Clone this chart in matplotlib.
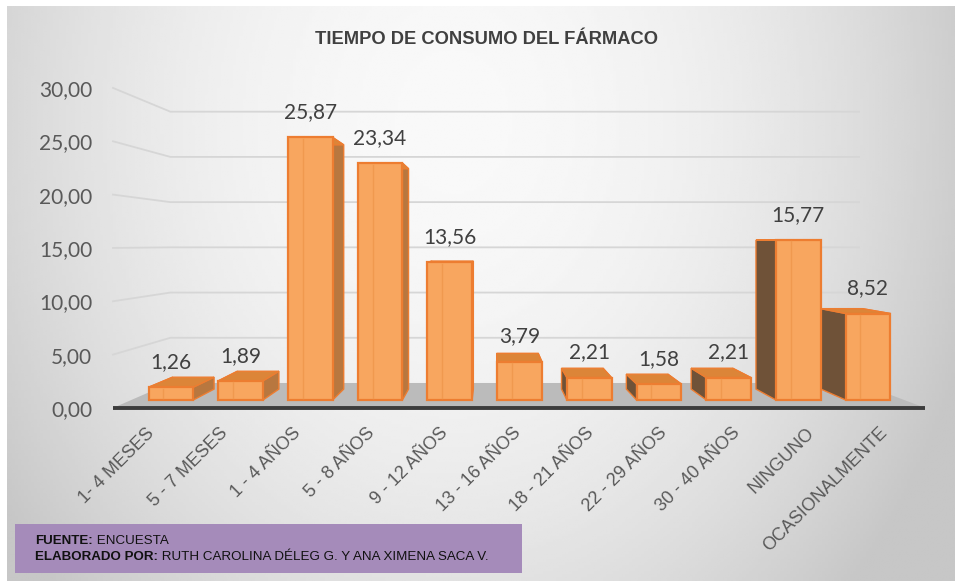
import numpy as np
import matplotlib.pyplot as plt
from matplotlib.patches import Polygon, Rectangle

categories = ["1- 4 MESES", "5 - 7 MESES", "1 - 4 AÑOS", "5 - 8 AÑOS", "9 - 12 AÑOS",
              "13 - 16 AÑOS", "18 - 21 AÑOS", "22 - 29 AÑOS", "30 - 40 AÑOS",
              "NINGUNO", "OCASIONALMENTE"]
values = [1.26, 1.89, 25.87, 23.34, 13.56, 3.79, 2.21, 1.58, 2.21, 15.77, 8.52]
y_ticks = [0, 5, 10, 15, 20, 25, 30]
title = "TIEMPO DE CONSUMO DEL FÁRMACO"
source_bold = ["FUENTE:", "ELABORADO POR:"]
source_text = [" ENCUESTA", " RUTH CAROLINA DÉLEG G. Y ANA XIMENA SACA V."]

W, H = 955, 581
fig = plt.figure(figsize=(W / 100, H / 100), dpi=100)

# fondo con degradado
bg = fig.add_axes([7 / W, 0, 1 - 7 / W, 1 - 6 / H])
bg.axis("off")
yy, xx = np.mgrid[0:1:200j, 0:1:300j]
r = ((xx - 0.47) / 0.58) ** 2 + ((yy - 0.2) / 1.2) ** 2
shade = np.clip(0.975 - 0.2 * r, 0.78, 0.975)
bg.imshow(shade, cmap="gray", vmin=0, vmax=1, aspect="auto", extent=[0, 1, 0, 1], origin="upper")
bg.set_xlim(0, 1)
bg.set_ylim(0, 1)

# ejes principales (x = categoría, y = valor en el plano frontal de las barras)
x0, px_x = 171, 69.7
y0, px_y = 400, 10.15
xmin, xmax, ymin, ymax = -1, 11, -1.5, 33
left = x0 + px_x * xmin
right = x0 + px_x * xmax
bot = y0 - px_y * ymin
top = y0 - px_y * ymax
ax = fig.add_axes([left / W, (H - bot) / H, (right - left) / W, (bot - top) / H])
ax.set_xlim(xmin, xmax)
ax.set_ylim(ymin, ymax)
ax.patch.set_visible(False)
for s in ax.spines.values():
    s.set_visible(False)

# perspectiva
xv, yv = (490 - x0) / px_x, (y0 - 244) / px_y
K_FRONT, K_BACK, K_WALL = 1.051, 0.93, 0.891


def proj(x, y, k):
    return xv + (x - xv) * k, yv + (y - yv) * k


floor_lo, floor_hi = -0.57, 10.52

# líneas de cuadrícula (pared izquierda + fondo)
for v in y_ticks[1:]:
    pts = [proj(floor_lo, v, K_FRONT), proj(floor_lo, v, K_WALL), proj(floor_hi, v, K_WALL)]
    ax.plot([p[0] for p in pts], [p[1] for p in pts], color="#d6d6d6", lw=1.3,
            clip_on=False, zorder=1)

# piso
floor = [proj(floor_lo, 0, K_FRONT), proj(floor_hi, 0, K_FRONT),
         proj(floor_hi, 0, K_WALL), proj(floor_lo, 0, K_WALL)]
ax.add_patch(Polygon(floor, closed=True, facecolor="#bbbbbb", edgecolor="none",
                     zorder=2, clip_on=False))
ax.plot([floor[0][0], floor[1][0]], [floor[0][1], floor[1][1]], color="#3c3c3c",
        lw=2.8, solid_capstyle="butt", zorder=3, clip_on=False)

# barras 3D
w = 0.64
edge = "#ED7D31"
for i, v in enumerate(values):
    l, rr = i - w / 2, i + w / 2
    fl_b, fr_b, fr_t, fl_t = (l, 0), (rr, 0), (rr, v), (l, v)
    bl_b, br_b = proj(l, 0, K_BACK), proj(rr, 0, K_BACK)
    bl_t, br_t = proj(l, v, K_BACK), proj(rr, v, K_BACK)
    # caras laterales
    ax.add_patch(Polygon([fr_b, fr_t, br_t, br_b], facecolor="#b8773f", edgecolor=edge,
                         lw=1.0, zorder=4, clip_on=False))
    ax.add_patch(Polygon([fl_b, fl_t, bl_t, bl_b], facecolor="#6f5238", edgecolor=edge,
                         lw=1.0, zorder=4, clip_on=False))
    # cara superior
    ax.add_patch(Polygon([fl_t, fr_t, br_t, bl_t], facecolor="#dc8538", edgecolor=edge,
                         lw=1.0, zorder=5, clip_on=False))
    # cara frontal
    ax.add_patch(Rectangle((l, 0), w, v, facecolor="#F8A65F", edgecolor=edge, lw=1.6,
                           zorder=6, clip_on=False))
    ax.plot([l + w * 0.33, l + w * 0.33], [0.15, v - 0.15], color="#f0994f", lw=1.0,
            zorder=7, clip_on=False)
    ax.annotate(f"{v:.2f}".replace(".", ","), (i, v), xytext=(0, 13.7),
                textcoords="offset points", ha="center", va="baseline",
                fontsize=15, family="Lato", color="#404040", zorder=8,
                annotation_clip=False)

# ticks
ax.set_yticks([proj(0, v, K_FRONT)[1] for v in y_ticks],
              labels=[f"{v:.2f}".replace(".", ",") for v in y_ticks])
ax.tick_params(axis="y", length=0, pad=6.5, labelsize=15, labelcolor="#595959")
for t in ax.get_yticklabels():
    t.set_family("Lato")

ax.set_xticks([proj(i, 0, K_FRONT)[0] - 0.04 for i in range(len(categories))],
              labels=categories)
ax.tick_params(axis="x", length=0, pad=11, labelsize=13, labelcolor="#595959")
for t in ax.get_xticklabels():
    t.set_rotation(45)
    t.set_ha("right")
    t.set_va("center")
    t.set_rotation_mode("anchor")
    t.set_family("Liberation Sans")

# título
fig.text(486 / W, 1 - 39 / H, title, ha="center", va="center", fontsize=13.2,
         fontweight="bold", family="Liberation Sans", color="#404040")

# recuadro de fuente
fig.patches.append(Rectangle((15 / W, 1 - 573 / H), (522 - 15) / W, (573 - 524) / H,
                             transform=fig.transFigure, facecolor="#A58BBA",
                             edgecolor="none", zorder=5))
renderer = fig.canvas.get_renderer()
for k, (b, t) in enumerate(zip(source_bold, source_text)):
    yk = 1 - (541 + 15.5 * k) / H
    tb = fig.text(35 / W, yk, b, ha="left", va="center", fontsize=9.6, fontweight="bold",
                  family="Liberation Sans", color="#111111", zorder=6)
    bb = tb.get_window_extent(renderer)
    fig.text(bb.x1 / W, yk, t, ha="left", va="center", fontsize=9.6,
             family="Liberation Sans", color="#111111", zorder=6)

fig.savefig("out.png", dpi=100)
